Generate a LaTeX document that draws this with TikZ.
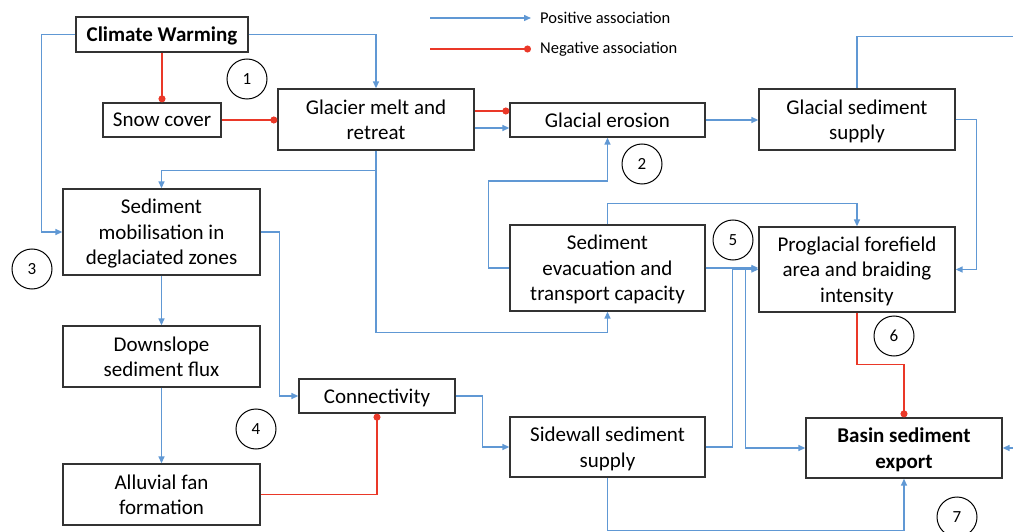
\documentclass[tikz,border=0pt]{standalone}
\usepackage{fontspec}
\setmainfont{Carlito}
\usepackage{xcolor}
\usetikzlibrary{arrows.meta,positioning}
\definecolor{posblue}{RGB}{96,152,212}
\definecolor{negred}{RGB}{234,56,40}

\begin{document}
\begin{tikzpicture}[
  x=1pt,y=-1pt,
  font=\fontsize{21}{25.5}\selectfont,
  box/.style={draw=black!80,line width=1.3pt,align=center,inner sep=0pt,text depth=0pt},
  num/.style={draw=black,circle,line width=1pt,minimum size=40pt,inner sep=0pt,font=\fontsize{17}{20}\selectfont},
  leg/.style={anchor=west,inner sep=0pt,font=\fontsize{16.5}{20}\selectfont},
  posar/.style={-{Triangle[length=7pt,width=6pt]},draw=posblue,line width=1.4pt},
  negar/.style={-{Circle[length=7pt]},draw=negred,line width=1.3pt}
]
\useasboundingbox (0,0) rectangle (1013,532);
\clip (0,0) rectangle (1013,532);

% legend
\node[leg] (lpos) at (540,18) {Positive association};
\node[leg] (lneg) at (540,49) {Negative association};
\coordinate (lp) at (430,18);
\coordinate (ln) at (430,49);
\draw[posar] (lp) -- ([xshift=-9pt]lpos.west);
\draw[negar] (ln) -- ([xshift=-9pt]lneg.west);

% boxes
\node[box,minimum width=172pt,minimum height=35pt] (cw) at (162,34.5) {\textbf{Climate Warming}};
\node[box,minimum width=118pt,minimum height=34pt] (sc) at (162,120) {Snow cover};
\node[box,minimum width=196pt,minimum height=61pt] (gm) at (376,119.5) {Glacier melt and\\retreat};
\node[box,minimum width=195pt,minimum height=34pt] (ge) at (607.5,120) {Glacial erosion};
\node[box,minimum width=196pt,minimum height=61pt] (gss) at (857,119.5) {Glacial sediment\\supply};
\node[box,minimum width=197pt,minimum height=86pt] (sm) at (161.5,232) {Sediment\\mobilisation in\\deglaciated zones};
\node[box,minimum width=197pt,minimum height=61pt] (dsf) at (161.5,356.5) {Downslope\\sediment flux};
\node[box,minimum width=197pt,minimum height=61pt] (af) at (161.5,494.5) {Alluvial fan\\formation};
\node[box,minimum width=156pt,minimum height=34pt] (conn) at (377,396) {Connectivity};
\node[box,minimum width=195pt,minimum height=86pt] (se) at (607.5,268) {Sediment\\evacuation and\\transport capacity};
\node[box,minimum width=196pt,minimum height=85pt] (pf) at (857,269.5) {Proglacial forefield\\area and braiding\\intensity};
\node[box,minimum width=195pt,minimum height=60pt] (ss) at (607.5,447) {Sidewall sediment\\supply};
\node[box,minimum width=196pt,minimum height=60pt] (bse) at (904,448) {\textbf{Basin sediment}\\\textbf{export}};

% numbered circles
\node[num] (n1) at (247,79) {1};
\node[num] (n2) at (642,164) {2};
\node[num] (n3) at (32,269) {3};
\node[num] (n4) at (256,429) {4};
\node[num] (n5) at (733,240) {5};
\node[num] (n6) at (894,336) {6};
\node[num] (n7) at (957,517) {7};

% negative links
\draw[negar] (cw.south) -- (sc.north);
\draw[negar] (sc.east) -- (sc.east -| gm.west);
\coordinate (r1) at ([yshift=9pt]ge.west);
\coordinate (b1) at ([yshift=-8pt]ge.west);
\draw[negar] (r1 -| gm.east) -- (r1);
\draw[negar] (af.east) -| (conn.south);
\draw[negar] (pf.south) -- ++(0,52) -| (bse.north);

% positive links
\draw[posar] (b1 -| gm.east) -- (b1);
\draw[posar] (cw.east) -| (gm.north);
\draw[posar] (cw.west) -- ++(-34,0) |- (sm.west);
\draw[posar] (gm.south) -- ++(0,20) -| (sm.north);
\draw[posar] (gm.south) -- ++(0,182) -| (se.south);
\draw[posar] (ge.east) -- (ge.east -| gss.west);
\draw[posar] (se.west) -- ++(-21,0) -- ++(0,-87) -| (ge.south);
\draw[posar] (gss.east) -- ++(21,0) |- (pf.east);
\draw[posar] (gss.north) -- ++(0,-52) -- ++(200,0) |- (bse.east);
\draw[posar] (se.north) -- ++(0,-21) -| (pf.north);
\draw[posar] (se.east) -- (se.east -| pf.west);
\draw[posar] (se.east) -- ++(40,0) |- (bse.west);
\draw[posar] (ss.east) -- ++(27,0) |- (pf.west);
\draw[posar] (sm.south) -- (dsf.north);
\draw[posar] (dsf.south) -- (af.north);
\draw[posar] (sm.east) -- ++(19,0) |- (conn.west);
\draw[posar] (conn.east) -- ++(27,0) |- (ss.west);
\draw[posar] (ss.south) -- ++(0,53) -| (bse.south);
\end{tikzpicture}
\end{document}
